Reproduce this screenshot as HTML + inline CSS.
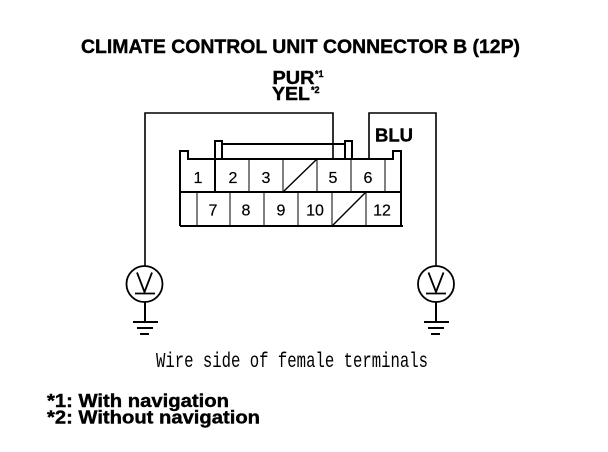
<!DOCTYPE html>
<html><head><meta charset="utf-8"><style>
html,body{margin:0;padding:0;background:#fff;width:608px;height:452px;overflow:hidden}
svg{display:block}
text{font-family:"Liberation Sans",sans-serif;fill:#000}
.b{font-weight:bold;stroke:#000;stroke-width:.4}
.n{font-size:16px;text-anchor:middle;stroke:#000;stroke-width:.2}
</style></head><body>
<svg width="608" height="452" viewBox="0 0 608 452">
<text class="b" x="81" y="53" font-size="19.5" textLength="439" lengthAdjust="spacingAndGlyphs">CLIMATE CONTROL UNIT CONNECTOR B (12P)</text>
<text class="b" x="272.500" y="84" font-size="18" textLength="42" lengthAdjust="spacingAndGlyphs">PUR</text>
<text class="b" x="315" y="77" font-size="9">*1</text>
<text class="b" x="272" y="100" font-size="18" textLength="38" lengthAdjust="spacingAndGlyphs">YEL</text>
<text class="b" x="311" y="93" font-size="9">*2</text>
<text class="b" x="375" y="141.500" font-size="18" textLength="38" lengthAdjust="spacingAndGlyphs">BLU</text>
<g fill="none" stroke="#000" stroke-width="1.6">
<path d="M145 266V113H333V159"/>
<path d="M369 159V113H436V266"/>
</g>
<g fill="none" stroke="#000" stroke-width="2" shape-rendering="crispEdges">
<path d="M180 226V151H188V159H393V151H401V226"/>
<path d="M180 192H401"/>
<path d="M180 226H403"/>
<path d="M215 159V192"/>
<path d="M249 159V192M283 159V192M317 159V192M351 159V192M385 159V192" stroke-width="1"/>
<path d="M197 192V226M230 192V226M264 192V226M298 192V226M332 192V226M366 192V226" stroke-width="1"/>
<path d="M215 159V141H222V159M222 144H345M345 159V141H352V159"/>
</g>
<g fill="none" stroke="#000" stroke-width="1.4">
<path d="M284 191L317 159"/>
<path d="M333 225L366 192"/>
</g>
<text class="n" x="198" y="183">1</text><text class="n" x="233" y="183">2</text><text class="n" x="266" y="183">3</text><text class="n" x="333" y="183">5</text><text class="n" x="368" y="183">6</text>
<text class="n" x="213" y="215.500">7</text><text class="n" x="246" y="215.500">8</text><text class="n" x="281" y="215.500">9</text><text class="n" x="315" y="215.500">10</text><text class="n" x="382" y="215.500">12</text>
<g fill="none" stroke="#000" stroke-width="1.8">
<circle cx="144.500" cy="284" r="18"/><circle cx="436" cy="284" r="18"/>
<path d="M137 272.500L144.500 292L152 272.500M135 293.500H155"/>
<path d="M428.500 272.500L436 292L443.500 272.500M426 293.500H446"/>
</g>
<g fill="none" stroke="#000" stroke-width="1.8" shape-rendering="crispEdges">
<path d="M145 302V322M133 322H158M137 328H153M140 334H149"/>
<path d="M436 302V322M424 322H449M428 328H444M431 334H440"/>
</g>
<text x="156" y="367" font-size="21" textLength="272" lengthAdjust="spacingAndGlyphs" style="font-family:'Liberation Mono',monospace">Wire side of female terminals</text>
<text class="b" x="47" y="407" font-size="18" textLength="182" lengthAdjust="spacingAndGlyphs">*1: With navigation</text>
<text class="b" x="47" y="423.500" font-size="18" textLength="213" lengthAdjust="spacingAndGlyphs">*2: Without navigation</text>
</svg>
</body></html>
